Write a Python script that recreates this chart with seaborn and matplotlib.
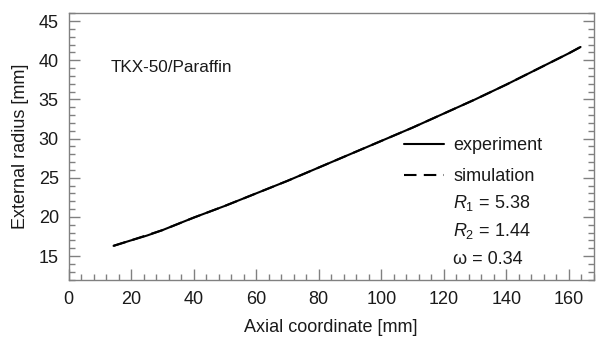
import numpy as np
import pandas as pd
import matplotlib
matplotlib.use("Agg")
import matplotlib.pyplot as plt
from matplotlib.ticker import MultipleLocator
import seaborn as sns

# data
axial_exp = [14.4, 20, 25, 30, 40, 50, 60, 70, 80, 90, 100, 110, 120, 130, 140, 150, 160, 163.7]
radius_exp = [16.3, 17.0, 17.6, 18.3, 19.9, 21.4, 23.0, 24.6, 26.3, 28.0, 29.7, 31.4, 33.2, 35.0, 36.9, 38.9, 40.9, 41.7]
axial_sim = [14.4, 20, 25, 30, 40, 50, 60, 70, 80, 90, 100, 110, 120, 130, 140, 150, 160, 163.7]
radius_sim = [16.3, 17.0, 17.65, 18.3, 19.9, 21.4, 23.0, 24.6, 26.3, 28.0, 29.7, 31.4, 33.2, 35.0, 36.9, 38.9, 40.9, 41.7]

material = "TKX-50/Paraffin"
params = [r"$R_1$ = 5.38", r"$R_2$ = 1.44", "\u03c9 = 0.34"]

sns.set_theme(style="white")
plt.rcParams["font.family"] = ["Liberation Sans", "DejaVu Sans"]
plt.rcParams["mathtext.fontset"] = "custom"
plt.rcParams["mathtext.rm"] = "Liberation Sans"
plt.rcParams["mathtext.it"] = "Liberation Sans:italic"
FS = 13
TXT = "#1a1a1a"

df = pd.concat([
    pd.DataFrame({"x": axial_exp, "y": radius_exp, "series": "experiment"}),
    pd.DataFrame({"x": axial_sim, "y": radius_sim, "series": "simulation"}),
])

fig = plt.figure(figsize=(5.98, 3.38), dpi=100)
ax = fig.add_axes([68.5 / 598, 1 - 279.5 / 338, (594 - 68.5) / 598, (279.5 - 13.3) / 338])

sns.lineplot(data=df, x="x", y="y", hue="series", style="series",
             palette={"experiment": "black", "simulation": "black"},
             dashes={"experiment": "", "simulation": (6, 3.5)},
             linewidth=1.5, ax=ax, sort=False, estimator=None)

ax.set_xlim(0, 168)
ax.set_ylim(12, 46)
ax.xaxis.set_major_locator(MultipleLocator(20))
ax.xaxis.set_minor_locator(MultipleLocator(4))
ax.yaxis.set_minor_locator(MultipleLocator(1))
ax.set_yticks([15, 20, 25, 30, 35, 40, 45])

ax.tick_params(which="both", direction="in", color="#808080", width=1,
               bottom=True, left=True, right=True, top=False, labelsize=FS,
               labelcolor=TXT)
ax.tick_params(which="major", length=8)
ax.tick_params(which="minor", length=4)
ax.tick_params(axis="x", which="major", pad=8)
ax.tick_params(axis="y", which="major", pad=7)
for s in ax.spines.values():
    s.set_color("#808080")
    s.set_linewidth(1)

ax.set_xlabel("Axial coordinate [mm]", fontsize=FS, labelpad=8, color=TXT)
ax.set_ylabel("External radius [mm]", fontsize=FS, labelpad=7, color=TXT)

ax.text(13.5, 39.1, material, fontsize=12.3, va="center", ha="left", color=TXT)

leg = ax.legend(loc="upper left", bbox_to_anchor=(404 / 598, 1 - 137 / 338),
                bbox_transform=fig.transFigure, frameon=False, fontsize=FS,
                handlelength=2.2, handletextpad=0.55, labelspacing=0.8,
                borderpad=0, borderaxespad=0)
for t in leg.get_texts():
    t.set_color(TXT)

for i, p in enumerate(params):
    fig.text(453 / 598, 1 - (203 + 28 * i) / 338, p, fontsize=FS,
             va="center", ha="left", color=TXT)

fig.savefig("out.png", dpi=100)
